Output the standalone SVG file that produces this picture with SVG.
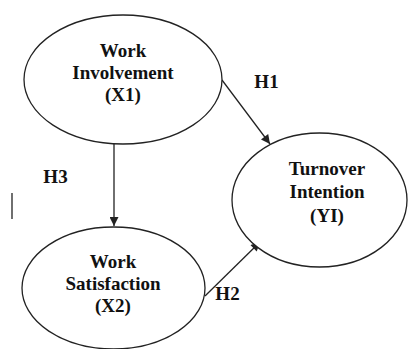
<svg xmlns="http://www.w3.org/2000/svg" width="409" height="349" viewBox="0 0 409 349">
<style>
.n{fill:#fff;stroke:#222;stroke-width:1.3}
.t{font-family:"Liberation Serif","Times New Roman",serif;font-weight:bold;font-size:19px;fill:#111;text-anchor:middle}
.e{stroke:#222;stroke-width:1.3;fill:none}
</style>
<defs>
<marker id="ah" viewBox="0 0 10 10" refX="10" refY="5" markerWidth="10" markerHeight="9" markerUnits="userSpaceOnUse" orient="auto">
<path d="M0,0 L10,5 L0,10 z" fill="#222"/>
</marker>
</defs>
<rect width="409" height="349" fill="#fff"/>
<g id="connectors">
<line class="e" x1="114" y1="144" x2="114" y2="226" marker-end="url(#ah)"/>
<line class="e" x1="222" y1="80" x2="270" y2="144" marker-end="url(#ah)"/>
<line class="e" x1="205" y1="296" x2="260" y2="242" marker-end="url(#ah)"/>
<line class="e" x1="12" y1="193" x2="12" y2="219"/>
</g>
<g id="x1">
<ellipse class="n" cx="123" cy="79.5" rx="99" ry="64.5"/>
<text class="t" x="123" y="57">Work</text>
<text class="t" x="123" y="79">Involvement</text>
<text class="t" x="123" y="101">(X1)</text>
</g>
<g id="y1">
<ellipse class="n" cx="319.5" cy="200" rx="87.5" ry="67"/>
<text class="t" x="327" y="175">Turnover</text>
<text class="t" x="327" y="198">Intention</text>
<text class="t" x="327" y="222">(YI)</text>
</g>
<g id="x2">
<ellipse class="n" cx="113.5" cy="288" rx="91.5" ry="61"/>
<text class="t" x="113" y="268">Work</text>
<text class="t" x="113" y="290">Satisfaction</text>
<text class="t" x="113" y="312">(X2)</text>
</g>
<g id="labels">
<text class="t" x="266.5" y="88">H1</text>
<text class="t" x="55.5" y="183">H3</text>
<text class="t" x="227.5" y="300">H2</text>
</g>
</svg>
